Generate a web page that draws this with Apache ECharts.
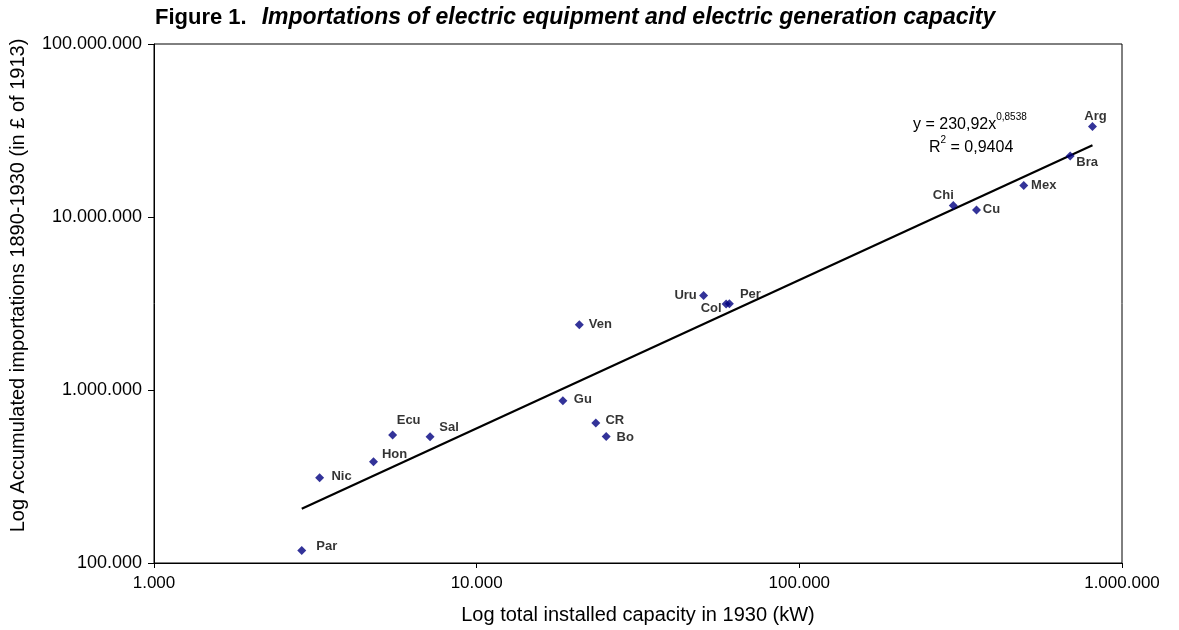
<!DOCTYPE html>
<html>
<head>
<meta charset="utf-8">
<script src="https://cdn.jsdelivr.net/npm/echarts@6/dist/echarts.min.js"></script>
<style>html,body{margin:0;padding:0;background:#fff}#c{width:1179px;height:630px}</style>
</head>
<body>
<div id="c"></div>
<script>
// ---- data ----
const countries = ['Par','Nic','Hon','Ecu','Sal','Gu','Ven','CR','Bo','Uru','Col','Per','Chi','Cu','Mex','Bra','Arg'];
const capacityKW = [2870, 3260, 4790, 5490, 7170, 18500, 20800, 23400, 25200, 50500, 59300, 60700, 300000, 354000, 496000, 691000, 810000];
const importsGBP = [118000, 311000, 385000, 550000, 537000, 868000, 2385000, 645000, 539000, 3520000, 3140000, 3150000, 11670000, 10980000, 15230000, 22500000, 33300000];
const trendX = [2870, 810000];
const trendY = [206000, 26000000];
const xTicks = [1000, 10000, 100000, 1000000];
const yTicks = [100000, 1000000, 10000000, 100000000];
const titleMain = 'Figure 1.';
const titleSub = 'Importations of electric equipment and electric generation capacity';
const xName = 'Log total installed capacity in 1930 (kW)';
const yName = 'Log Accumulated importations 1890-1930 (in £ of 1913)';
const eqText = ['y = 230,92x', '0,8538', 'R', '2', ' = 0,9404'];

// label placement (text centre relative to the point, px)
const labelOffsets = {
  Par:[25,-4], Nic:[22,-1], Hon:[21,-7], Ecu:[16,-14], Sal:[19,-9], Gu:[20,-1],
  Ven:[21,0], CR:[19,-3], Bo:[19,1], Uru:[-18,0], Col:[-15,4], Per:[21,-9],
  Chi:[-10,-10], Cu:[15,-1], Mex:[20,0], Bra:[17,6], Arg:[3,-10]
};

const fmt = v => String(Math.round(v)).replace(/\B(?=(\d{3})+(?!\d))/g, '.');
const FONT = '"Liberation Sans", Arial, sans-serif';

const pts = countries.map((n, i) => ({
  name: n,
  value: [capacityKW[i], importsGBP[i]],
  label: { offset: labelOffsets[n] }
}));

const chart = echarts.init(document.getElementById('c'), null, { renderer: 'canvas' });
chart.setOption({
  animation: false,
  backgroundColor: '#fff',
  title: {
    text: '{a|' + titleMain + '}   {b|' + titleSub + '}',
    left: 150, top: 1,
    textStyle: {
      rich: {
        a: { fontFamily: FONT, fontSize: 22, fontWeight: 'bold', color: '#000' },
        b: { fontFamily: FONT, fontSize: 23, fontWeight: 'bold', fontStyle: 'italic', color: '#000' }
      }
    }
  },
  grid: { left: 153, right: 57, top: 44, bottom: 67, show: true, borderColor: '#000', borderWidth: 1, backgroundColor: '#fff' },
  xAxis: {
    type: 'log', logBase: 10, min: xTicks[0], max: xTicks[xTicks.length - 1],
    name: xName, nameLocation: 'middle', nameGap: 42,
    nameTextStyle: { fontFamily: FONT, fontSize: 20, color: '#000' },
    axisLine: { lineStyle: { color: '#000', width: 1 } },
    axisTick: { show: true, length: 5, inside: false, lineStyle: { color: '#000' } },
    axisLabel: { fontFamily: FONT, fontSize: 17, color: '#000', margin: 12, formatter: fmt },
    splitLine: { show: false }, minorTick: { show: false }
  },
  yAxis: {
    type: 'log', logBase: 10, min: yTicks[0], max: yTicks[yTicks.length - 1],
    name: yName, nameLocation: 'middle', nameGap: 126, nameRotate: 90,
    nameTextStyle: { fontFamily: FONT, fontSize: 20, color: '#000', padding: [0, 0, 0, 36] },
    axisLine: { lineStyle: { color: '#000', width: 1 } },
    axisTick: { show: true, length: 6, inside: false, lineStyle: { color: '#000' } },
    axisLabel: { fontFamily: FONT, fontSize: 18, color: '#000', margin: 12, formatter: fmt },
    splitLine: { show: false }, minorTick: { show: false }
  },
  series: [
    {
      type: 'line',
      data: trendX.map((x, i) => [x, trendY[i]]),
      symbol: 'none',
      lineStyle: { color: '#000', width: 2.2 },
      silent: true, z: 2
    },
    {
      type: 'scatter',
      data: pts,
      symbol: 'diamond', symbolSize: [9, 9],
      itemStyle: { color: '#000080' },
      label: {
        show: true, position: 'inside', formatter: '{b}',
        fontFamily: FONT, fontSize: 13, fontWeight: 'bold', color: '#000'
      },
      z: 3
    }
  ],
  graphic: [
    {
      type: 'text', left: 913, top: 112,
      style: {
        text: '{b|' + eqText[0] + '}{s|' + eqText[1] + '}',
        rich: {
          b: { fontFamily: FONT, fontSize: 16, color: '#000', lineHeight: 21, verticalAlign: 'bottom' },
          s: { fontFamily: FONT, fontSize: 10, color: '#000', lineHeight: 21, verticalAlign: 'top' }
        }
      }
    },
    {
      type: 'text', left: 929, top: 135,
      style: {
        text: '{b|' + eqText[2] + '}{s|' + eqText[3] + '}{b|' + eqText[4] + '}',
        rich: {
          b: { fontFamily: FONT, fontSize: 16, color: '#000', lineHeight: 21, verticalAlign: 'bottom' },
          s: { fontFamily: FONT, fontSize: 10, color: '#000', lineHeight: 21, verticalAlign: 'top' }
        }
      }
    }
  ]
});
</script>
</body>
</html>
